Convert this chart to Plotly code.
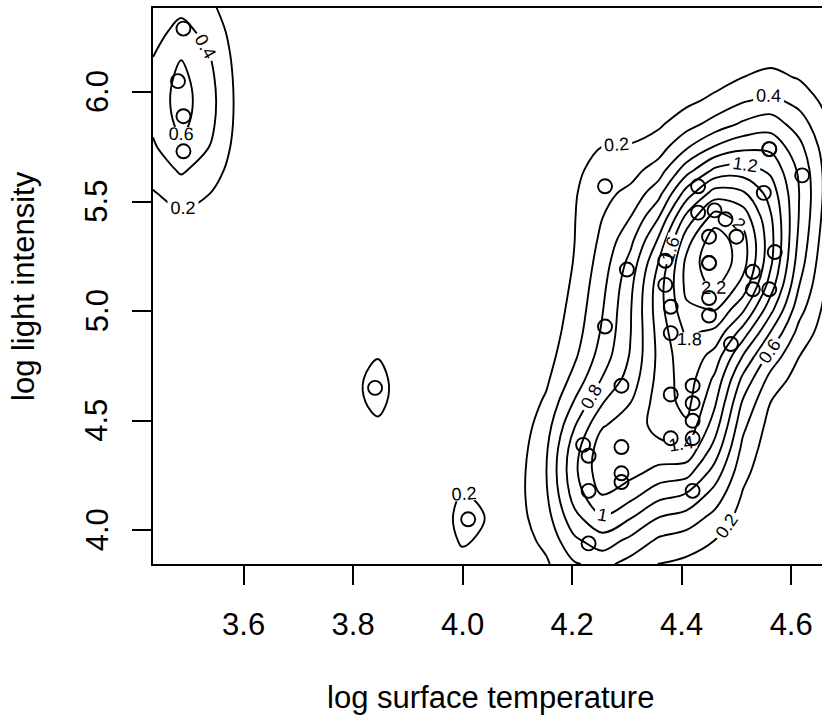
import numpy as np
import plotly.graph_objects as go

# starsCYG data (log surface temperature, log light intensity)
log_te = [4.37, 4.56, 4.26, 4.56, 4.30, 4.46, 3.84, 4.57, 4.26, 4.37,
          3.49, 4.43, 4.48, 4.01, 4.29, 4.42, 4.23, 4.42, 4.23, 3.49,
          4.29, 4.29, 4.42, 4.49, 4.38, 4.42, 4.29, 4.38, 4.22, 3.48,
          4.38, 4.56, 4.45, 3.49, 4.23, 4.62, 4.53, 4.45, 4.53, 4.43,
          4.38, 4.45, 4.50, 4.45, 4.55, 4.45, 4.42]
log_light = [5.23, 5.74, 4.93, 5.74, 5.19, 5.46, 4.65, 5.27, 5.57, 5.12,
             5.73, 5.45, 5.42, 4.05, 4.26, 4.58, 3.94, 4.18, 4.18, 5.89,
             4.38, 4.22, 4.42, 4.85, 5.02, 4.66, 4.66, 4.90, 4.39, 6.05,
             4.42, 5.10, 5.22, 6.29, 4.34, 5.62, 5.10, 5.22, 5.18, 5.57,
             4.62, 5.06, 5.34, 5.34, 5.54, 4.98, 4.50]

x_ticks = [3.6, 3.8, 4.0, 4.2, 4.4, 4.6]
y_ticks = [4.0, 4.5, 5.0, 5.5, 6.0]

# kernel density estimate (kde2d-style, coarse grid)
bw = [0.236, 0.98]          # kde2d-style bandwidths (h/4 = kernel sd)
n_grid = 25
x_rng = [3.4344, 4.6656]
y_rng = [3.846, 6.384]

xa = np.array(log_te)
ya = np.array(log_light)
gx = np.linspace(x_rng[0], x_rng[1], n_grid)
gy = np.linspace(y_rng[0], y_rng[1], n_grid)
hx, hy = bw[0] / 4, bw[1] / 4
phi = lambda u: np.exp(-0.5 * u * u) / np.sqrt(2 * np.pi)
ax_ = phi((gx[:, None] - xa[None, :]) / hx)
ay_ = phi((gy[:, None] - ya[None, :]) / hy)
z = ax_ @ ay_.T / (len(xa) * hx * hy)

FONT = "Liberation Sans, Arial, Helvetica, sans-serif"

fig = go.Figure()
fig.add_trace(go.Contour(
    x=gx, y=gy, z=z.T,
    contours=dict(start=0.2, end=2.4, size=0.2, coloring="none",
                  showlabels=True, labelformat=".3~g",
                  labelfont=dict(size=18, color="black", family=FONT)),
    line=dict(color="black", width=1.9),
    showscale=False, hoverinfo="skip",
))
fig.add_trace(go.Scatter(
    x=log_te, y=log_light, mode="markers",
    marker=dict(symbol="circle-open", size=14, color="black",
                line=dict(width=1.9, color="black")),
    showlegend=False,
))

annotations = [
    dict(text="log surface temperature", xref="paper", yref="paper",
         x=(490 - 153) / 669, y=-(697 - 564) / 556, xanchor="center",
         yanchor="middle", showarrow=False, font=dict(size=31)),
    dict(text="log light intensity", xref="paper", yref="paper",
         x=-(153 - 23) / 669, y=0.5, xanchor="center", yanchor="middle",
         textangle=-90, showarrow=False, font=dict(size=31)),
]
for v in y_ticks:
    annotations.append(dict(text="%.1f" % v, xref="paper", yref="y",
                            x=-(153 - 97) / 669, y=v, xanchor="center",
                            yanchor="middle", textangle=-90,
                            showarrow=False, font=dict(size=31)))

fig.update_layout(
    width=822, height=717,
    margin=dict(l=153, r=0, t=8, b=153),
    paper_bgcolor="white", plot_bgcolor="white",
    font=dict(family=FONT, size=31, color="black"),
    showlegend=False,
    xaxis=dict(range=[3.4344, 4.6563], tickvals=x_ticks,
               ticktext=["%.1f" % v for v in x_ticks],
               ticks="outside", ticklen=19, tickwidth=1.9, tickcolor="black",
               showline=True, linecolor="black", linewidth=2, mirror=True,
               showgrid=False, zeroline=False, ticklabelstandoff=13),
    yaxis=dict(range=[3.846, 6.384], tickvals=y_ticks, showticklabels=False,
               ticks="outside", ticklen=19, tickwidth=1.9, tickcolor="black",
               showline=True, linecolor="black", linewidth=2, mirror=False,
               showgrid=False, zeroline=False),
    annotations=annotations,
)

fig.write_html("out.html")
